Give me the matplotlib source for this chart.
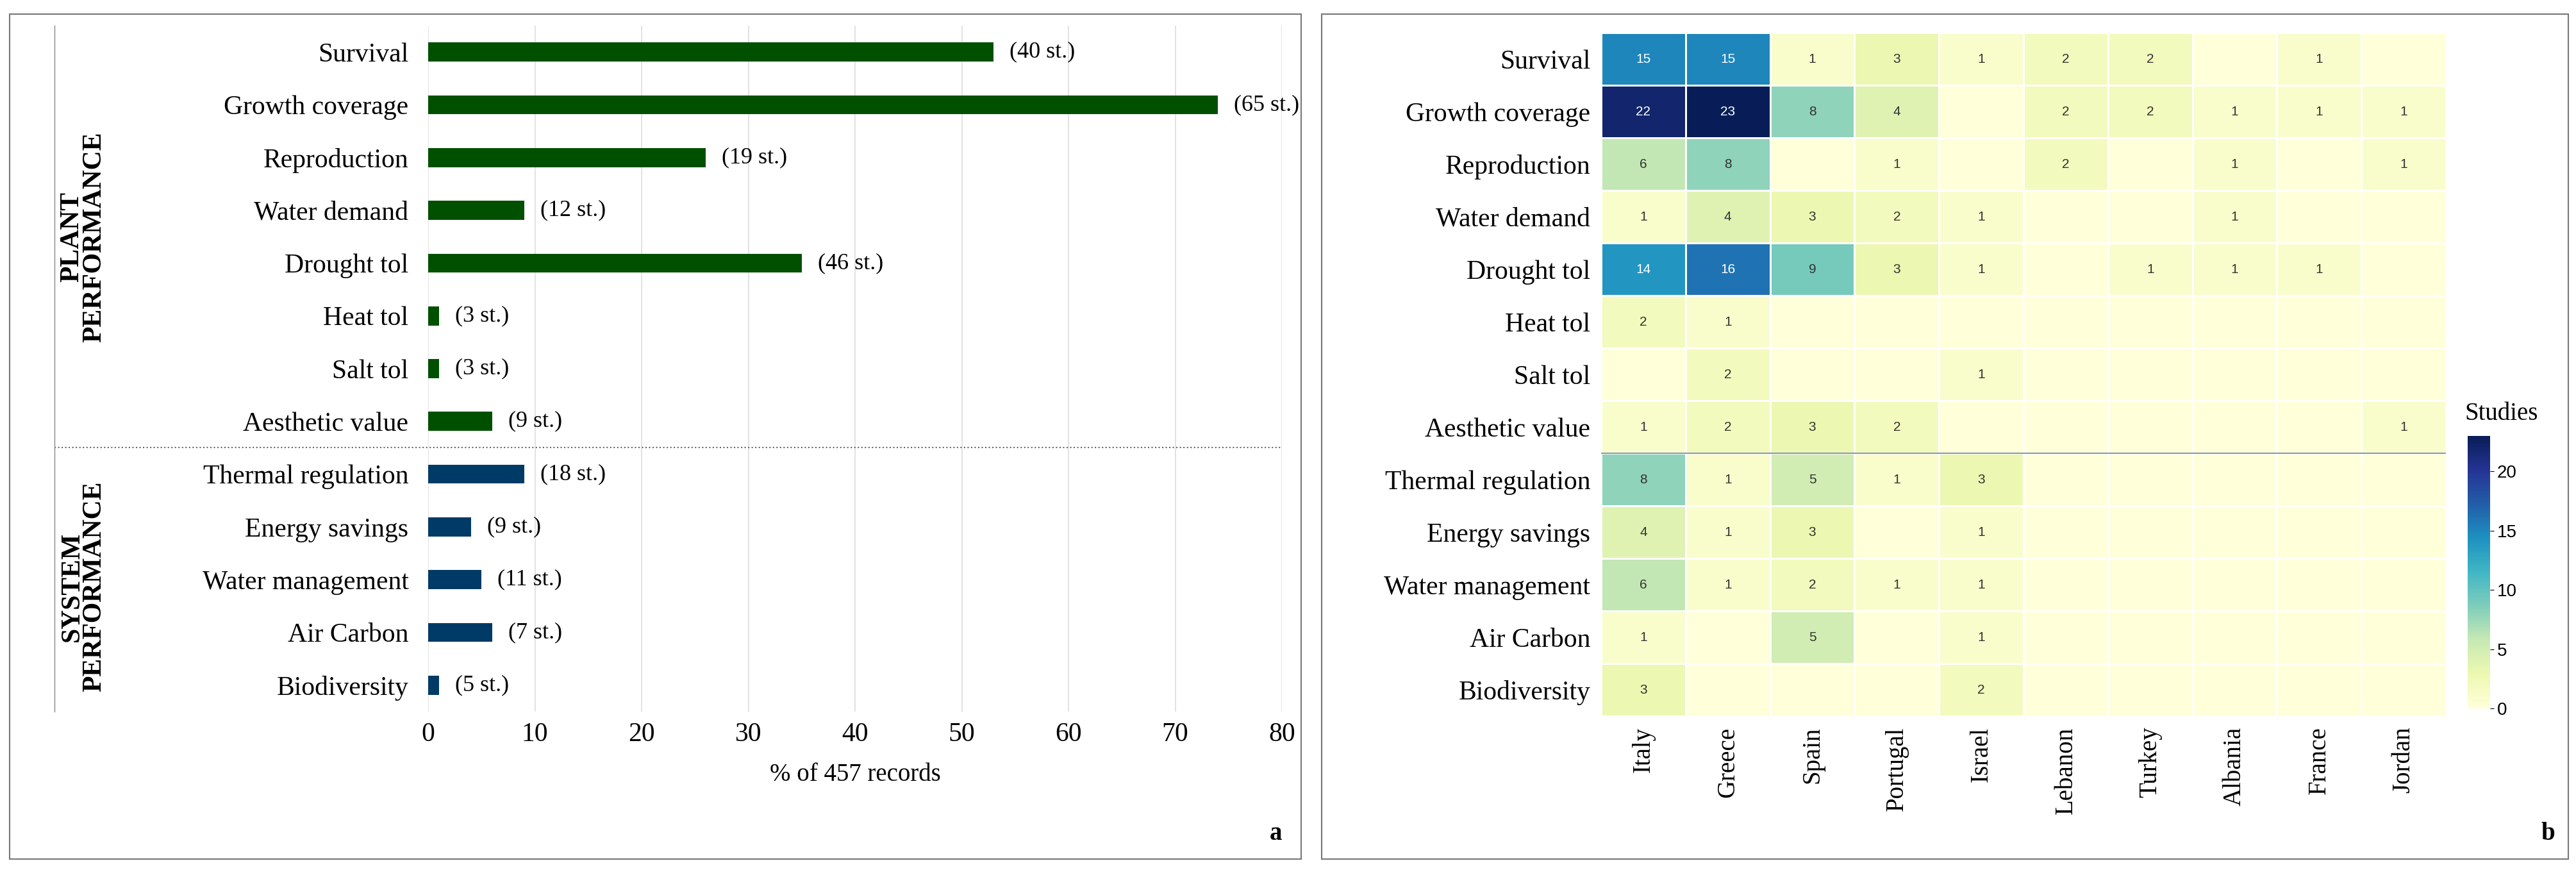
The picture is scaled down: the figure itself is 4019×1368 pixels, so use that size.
import matplotlib.pyplot as plt
import numpy as np
from matplotlib.patches import Rectangle

plt.rcParams['font.family'] = ['Liberation Serif', 'DejaVu Serif']

categories = ["Survival", "Growth coverage", "Reproduction", "Water demand", "Drought tol",
              "Heat tol", "Salt tol", "Aesthetic value", "Thermal regulation", "Energy savings",
              "Water management", "Air Carbon", "Biodiversity"]
n_plant = 8
pct = [53, 74, 26, 9, 35, 1, 1, 6, 9, 4, 5, 6, 1]
studies = [40, 65, 19, 12, 46, 3, 3, 9, 18, 9, 11, 7, 5]

countries = ["Italy", "Greece", "Spain", "Portugal", "Israel", "Lebanon", "Turkey", "Albania", "France", "Jordan"]
counts = np.array([
    [15, 15, 1, 3, 1, 2, 2, 0, 1, 0],
    [22, 23, 8, 4, 0, 2, 2, 1, 1, 1],
    [6, 8, 0, 1, 0, 2, 0, 1, 0, 1],
    [1, 4, 3, 2, 1, 0, 0, 1, 0, 0],
    [14, 16, 9, 3, 1, 0, 1, 1, 1, 0],
    [2, 1, 0, 0, 0, 0, 0, 0, 0, 0],
    [0, 2, 0, 0, 1, 0, 0, 0, 0, 0],
    [1, 2, 3, 2, 0, 0, 0, 0, 0, 1],
    [8, 1, 5, 1, 3, 0, 0, 0, 0, 0],
    [4, 1, 3, 0, 1, 0, 0, 0, 0, 0],
    [6, 1, 2, 1, 1, 0, 0, 0, 0, 0],
    [1, 0, 5, 0, 1, 0, 0, 0, 0, 0],
    [3, 0, 0, 0, 2, 0, 0, 0, 0, 0],
])

W, H = 4019, 1368
fig = plt.figure(figsize=(W / 100, H / 100), dpi=100)

def box(x0, y0, x1, y1):
    return [x0 / W, 1 - y1 / H, (x1 - x0) / W, (y1 - y0) / H]

# panel frames
fig.patches.append(Rectangle((15 / W, 1 - 1340 / H), 2015 / W, 1318 / H, transform=fig.transFigure,
                             fill=False, edgecolor="#777777", lw=1.5))
fig.patches.append(Rectangle((2062 / W, 1 - 1340 / H), 1945 / W, 1318 / H, transform=fig.transFigure,
                             fill=False, edgecolor="#777777", lw=1.5))

# ---- panel a
ax = fig.add_axes(box(668, 40, 2000, 1110))
y = np.arange(len(categories))
colors = ["#005000"] * n_plant + ["#003a66"] * (len(categories) - n_plant)
ax.barh(y, pct, height=0.36, color=colors, zorder=3)
for yi, p, s in zip(y, pct, studies):
    ax.text(p + 1.5, yi, f"({s} st.)", va="center", ha="left", fontsize=26)
ax.set_yticks(y)
ax.set_yticklabels(categories, fontsize=30)
ax.set_ylim(len(categories) - 0.5, -0.5)
ax.set_xlim(0, 80)
ax.set_xticks(range(0, 81, 10))
ax.tick_params(axis="x", labelsize=30, length=0, pad=12)
ax.tick_params(axis="y", length=0, pad=22)
ax.grid(axis="x", color="#dddddd", lw=1.2, zorder=0)
for sp in ax.spines.values():
    sp.set_visible(False)
ax.set_xlabel("% of 457 records", fontsize=28, labelpad=18)
ax.plot([-35, 80], [n_plant - 0.5, n_plant - 0.5], ls=":", color="#666666", lw=1.5, clip_on=False)
ax.plot([-35, -35], [-0.5, len(categories) - 0.5], color="#888888", lw=1, clip_on=False)
fig.text(130 / W, 1 - 370 / H, "PLANT\nPERFORMANCE", rotation=90, ha="center", va="center",
         fontsize=30, fontweight="bold", linespacing=0.9)
fig.text(130 / W, 1 - 915 / H, "SYSTEM\nPERFORMANCE", rotation=90, ha="center", va="center",
         fontsize=30, fontweight="bold", linespacing=0.9)
fig.text(1990 / W, 1 - 1300 / H, "a", fontsize=28, fontweight="bold", ha="center", va="center")

# ---- panel b
ax2 = fig.add_axes(box(2498, 51, 3816, 1117))
im = ax2.pcolormesh(counts, cmap="YlGnBu", vmin=0, vmax=23, edgecolors="white", linewidth=2)
ax2.set_ylim(len(categories), 0)
ax2.set_xlim(0, len(countries))
for i in range(counts.shape[0]):
    for j in range(counts.shape[1]):
        v = counts[i, j]
        if v > 0:
            ax2.text(j + 0.5, i + 0.5, str(v), ha="center", va="center", fontsize=15,
                     family="Liberation Sans", color="white" if v >= 12 else "#333333")
ax2.axhline(n_plant, color="#8899bb", lw=1.5)
ax2.set_yticks(np.arange(len(categories)) + 0.5)
ax2.set_yticklabels(categories, fontsize=30)
ax2.set_xticks(np.arange(len(countries)) + 0.5)
ax2.set_xticklabels(countries, rotation=90, fontsize=28)
ax2.tick_params(length=0, pad=12)
for sp in ax2.spines.values():
    sp.set_visible(False)
cax = fig.add_axes(box(3850, 680, 3885, 1105))
cb = fig.colorbar(im, cax=cax, ticks=[0, 5, 10, 15, 20])
cb.outline.set_visible(False)
cb.ax.tick_params(labelsize=20, length=4)
for t in cb.ax.get_yticklabels():
    t.set_family("Liberation Sans")
fig.text(3845 / W, 1 - 645 / H, "Studies", fontsize=28, ha="left", va="center")
fig.text(3975 / W, 1 - 1300 / H, "b", fontsize=28, fontweight="bold", ha="center", va="center")

fig.savefig("out.png", dpi=100)
